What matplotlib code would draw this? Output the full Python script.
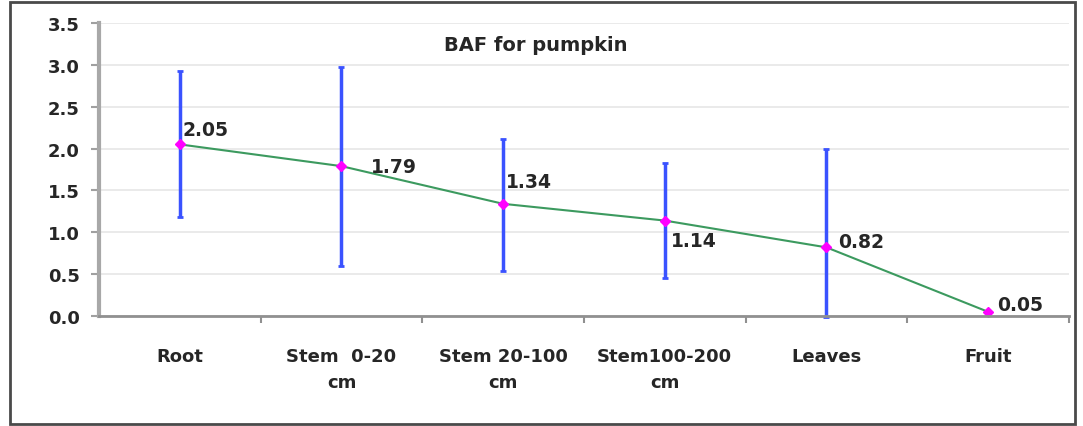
import matplotlib
matplotlib.use('Agg')
import matplotlib.pyplot as plt
from matplotlib.patches import Rectangle
import numpy as np

categories = ['Root', 'Stem  0-20\ncm', 'Stem 20-100\ncm', 'Stem100-200\ncm', 'Leaves', 'Fruit']
baf = [2.05, 1.79, 1.34, 1.14, 0.82, 0.05]
err_low = [0.87, 1.19, 0.80, 0.69, 0.83, 0.0]
err_high = [0.88, 1.19, 0.78, 0.69, 1.18, 0.0]
labels = ['2.05', '1.79', '1.34', '1.14', '0.82', '0.05']
# label offsets in pixels (left edge, vertical centre)
label_offsets = [(3, 15), (29, 0), (3, 22), (6, -20), (12, 6), (9, 7)]
yticks = [0.0, 0.5, 1.0, 1.5, 2.0, 2.5, 3.0, 3.5]

plt.rcParams['font.family'] = ['DejaVu Sans']
plt.rcParams['font.weight'] = 'bold'
txt_color = '#262626'

fig = plt.figure(figsize=(10.83, 4.27), dpi=100)
ax = fig.add_axes([0.0914, 0.2576, 0.8956, 0.6862])

x = np.arange(len(categories))
ax.errorbar(x[:5], baf[:5], yerr=[err_low[:5], err_high[:5]], fmt='none', ecolor='#3a52ff',
            elinewidth=2.5, capsize=2.5, capthick=2, zorder=2, clip_on=False)
ax.plot(x, baf, color='#3c9a5f', lw=1.5, zorder=3)
ax.plot(x, baf, ls='none', marker='D', ms=5.5, color='#ff00ff', zorder=4, clip_on=False)

for xi, yi, lab, off in zip(x, baf, labels, label_offsets):
    ax.annotate(lab, (xi, yi), xytext=off, textcoords='offset pixels', va='center', ha='left',
                fontsize=13.5, fontweight='bold', color=txt_color)

ax.set_xlim(-0.5, len(categories) - 0.5)
ax.set_ylim(0, 3.5)
ax.set_yticks(yticks)
ax.set_yticklabels(['%.1f' % v for v in yticks], fontsize=13, fontweight='bold', color=txt_color)
ax.yaxis.grid(True, color='#e6e6e6', lw=1.2)
ax.set_axisbelow(True)

ax.set_xticks(x)
ax.set_xticklabels(categories, fontsize=13, fontweight='bold', color=txt_color, linespacing=1.6)
ax.tick_params(axis='x', length=0, pad=22)
ax.set_xticks(np.arange(0.5, len(categories), 1), minor=True)
ax.tick_params(axis='x', which='minor', length=5, width=1.5, color='#909090')
ax.tick_params(axis='y', length=6, width=1.5, color='#a0a0a0', pad=8)

for s in ['top', 'right']:
    ax.spines[s].set_visible(False)
ax.spines['left'].set_color('#a8a8a8')
ax.spines['left'].set_linewidth(3)
ax.spines['bottom'].set_color('#909090')
ax.spines['bottom'].set_linewidth(2)
ax.spines['bottom'].set_zorder(5)

ax.text(0.450, 0.928, 'BAF for pumpkin', transform=ax.transAxes, ha='center', va='center',
        fontsize=14, fontweight='bold', color=txt_color)

fig.patches.append(Rectangle((0.009, 0.005), 0.984, 0.988, transform=fig.transFigure,
                             fill=False, edgecolor='#4a4a4a', lw=2))

fig.savefig('out.png', dpi=100)
